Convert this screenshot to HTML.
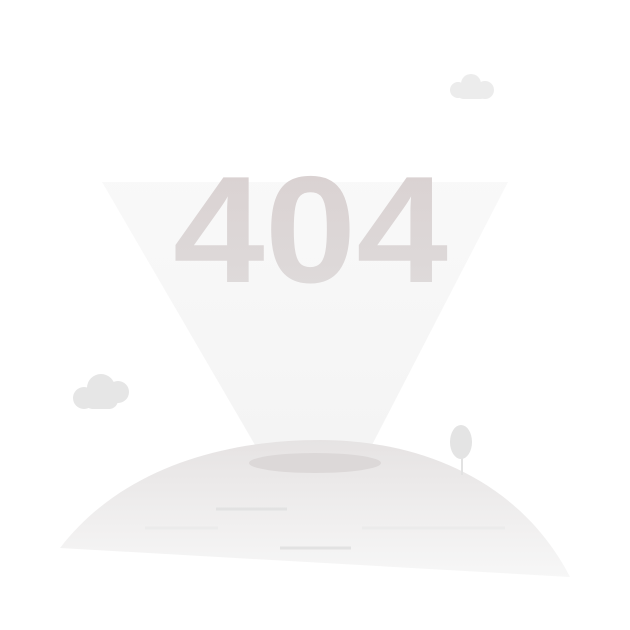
<!DOCTYPE html>
<html><head><meta charset="utf-8"><style>
html,body{margin:0;padding:0;background:#fff;width:630px;height:630px;overflow:hidden}
svg{display:block}
</style></head><body>
<svg width="630" height="630" viewBox="0 0 630 630">
<defs>
<linearGradient id="cone" x1="0" y1="0" x2="0" y2="1">
<stop offset="0" stop-color="#f6f6f6" stop-opacity="0.7"/>
<stop offset="1" stop-color="#f4f4f4" stop-opacity="1"/>
</linearGradient>
<linearGradient id="hill" x1="0" y1="0" x2="0" y2="1">
<stop offset="0" stop-color="#e6e3e3"/>
<stop offset="1" stop-color="#f7f7f7"/>
</linearGradient>
<linearGradient id="txt" x1="0" y1="0" x2="0" y2="1">
<stop offset="0" stop-color="#d9d0d0"/>
<stop offset="1" stop-color="#dfdcdc"/>
</linearGradient>
</defs>
<path d="M102,182 L508,182 L372,445 L255,445 Z" fill="url(#cone)"/>
<text x="173" y="282" textLength="275" lengthAdjust="spacingAndGlyphs" font-family="Liberation Sans, sans-serif" font-weight="bold" font-size="152" fill="url(#txt)">404</text>
<path d="M60,548 C120,470 220,440 320,440 C420,440 520,480 570,577 Z" fill="url(#hill)"/>
<ellipse cx="315" cy="463" rx="66" ry="10" fill="#dcd8d8"/>
<g stroke="#e2e2e2" stroke-width="3">
<line x1="216" y1="509" x2="287" y2="509"/>
<line x1="145" y1="528" x2="218" y2="528" stroke="#ebebeb"/>
<line x1="362" y1="528" x2="505" y2="528" stroke="#ebebeb"/>
<line x1="280" y1="548" x2="351" y2="548"/>
</g>
<g>
<line x1="462" y1="450" x2="462" y2="475" stroke="#e2e2e2" stroke-width="2"/>
<ellipse cx="461" cy="442" rx="11" ry="17" fill="#e4e4e4"/>
</g>
<g fill="#e6e6e6">
<circle cx="84" cy="398" r="11"/>
<circle cx="101" cy="388" r="14"/>
<circle cx="118" cy="392" r="11"/>
<rect x="84" y="390" width="34" height="19" rx="9"/>
</g>
<g fill="#ececec">
<circle cx="458" cy="90" r="8"/>
<circle cx="471" cy="84" r="10"/>
<circle cx="485" cy="90" r="9"/>
<rect x="458" y="88" width="28" height="11" rx="5"/>
</g>
</svg>
</body></html>
